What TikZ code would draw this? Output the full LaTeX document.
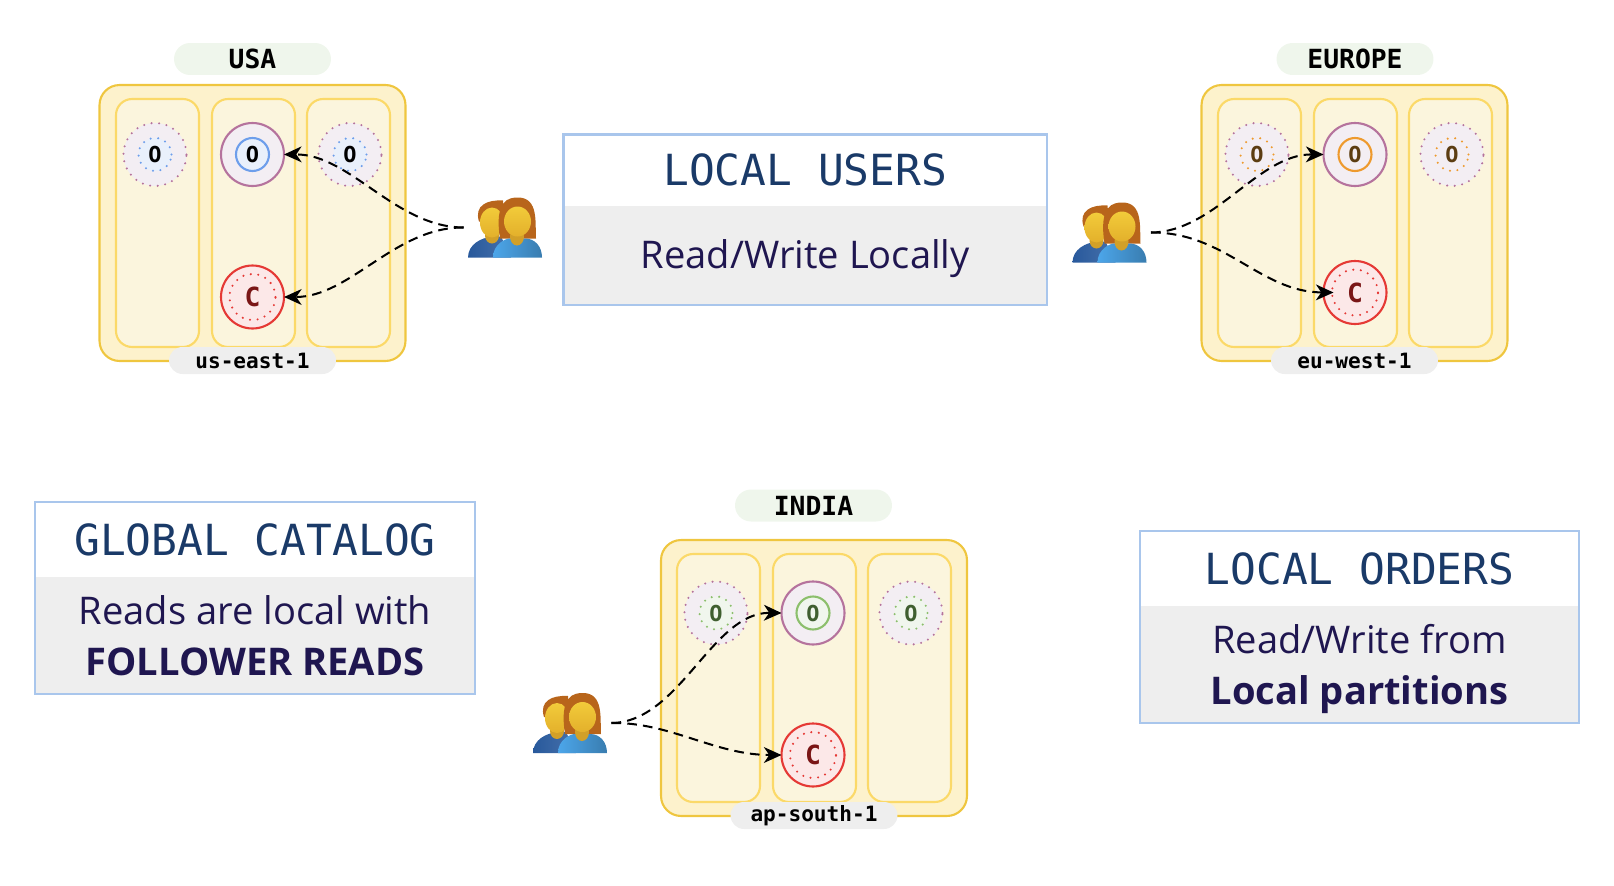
\documentclass[tikz,border=0pt]{standalone}
\usepackage{fontspec}
\setmainfont{Open Sans}
\setmonofont{DejaVu Sans Mono}
\usepackage{tikz}
\usetikzlibrary{arrows.meta, fit}
\definecolor{zoneyellow}{HTML}{FDF2CC}
\definecolor{zoneedge}{HTML}{EFC63F}
\definecolor{nodeyellow}{HTML}{FBF5DD}
\definecolor{nodeedge}{HTML}{FBD968}
\definecolor{pillgreen}{HTML}{EFF6EC}
\definecolor{pillgray}{HTML}{EEEEEE}
\definecolor{repfill}{HTML}{F3EEF3}
\definecolor{repedge}{HTML}{B5739D}
\definecolor{bluefill}{HTML}{E9F0FB}
\definecolor{blueedge}{HTML}{6D9EEB}
\definecolor{orangeedge}{HTML}{EE9A2E}
\definecolor{orangetext}{HTML}{5C3D11}
\definecolor{greenfill}{HTML}{F0F6ED}
\definecolor{greenedge}{HTML}{8CBF6C}
\definecolor{greentext}{HTML}{3F5F2F}
\definecolor{catfill}{HTML}{FCE8E8}
\definecolor{catedge}{HTML}{E53935}
\definecolor{cattext}{HTML}{7A1616}
\definecolor{infoedge}{HTML}{A9C6EC}
\definecolor{infohead}{HTML}{1A3A68}
\definecolor{infotext}{HTML}{1F1650}
\definecolor{hair}{HTML}{B8651B}
\definecolor{skin}{HTML}{F2CB3A}
\definecolor{skindark}{HTML}{E3B02B}
\definecolor{neckgold}{HTML}{D2A028}
\definecolor{manblue}{HTML}{28599C}
\definecolor{womanblue}{HTML}{4CA6EA}

\begin{document}
\begin{tikzpicture}[
        x=0.02cm, y=-0.02cm,
        every node/.style={align=center, outer sep=0pt},
        zone/.style={rectangle, rounded corners=0.4cm, draw=zoneedge, line width=1.2pt,
                     fill=zoneyellow, minimum width=6.12cm, minimum height=5.52cm},
        column/.style={rectangle, rounded corners=0.32cm, draw=nodeedge, line width=1.2pt,
                       fill=nodeyellow, minimum width=1.66cm, minimum height=4.96cm},
        geo/.style={rectangle, rounded corners=0.32cm, fill=pillgreen, minimum width=3.14cm,
                    minimum height=0.64cm, inner sep=0pt, text=black,
                    font=\ttfamily\bfseries\fontsize{15}{18}\selectfont},
        region/.style={rectangle, rounded corners=0.27cm, fill=pillgray, minimum width=3.34cm,
                       minimum height=0.54cm, inner sep=0pt, text=black,
                       font=\ttfamily\bfseries\fontsize{12}{14}\selectfont},
        dotline/.style={line width=1.3pt, line cap=round, dash pattern=on 0pt off 4.3pt},
        rep/.style={circle, draw=repedge, fill=repfill, dotline, minimum size=1.26cm, inner sep=0pt},
        lead/.style={circle, draw=repedge, fill=repfill, line width=1.2pt, minimum size=1.26cm, inner sep=0pt},
        repin/.style={circle, dotline, minimum size=0.66cm, inner sep=0pt,
                      font=\ttfamily\bfseries\fontsize{12.5}{14}\selectfont},
        leadin/.style={circle, line width=1.2pt, minimum size=0.66cm, inner sep=0pt,
                       font=\ttfamily\bfseries\fontsize{12.5}{14}\selectfont},
        bluetone/.style={draw=blueedge, fill=bluefill, text=black},
        orangetone/.style={draw=orangeedge, fill=repfill, text=orangetext},
        greentone/.style={draw=greenedge, fill=greenfill, text=greentext},
        cat/.style={circle, draw=catedge, fill=catfill, line width=1.2pt, minimum size=1.26cm, inner sep=0pt},
        catin/.style={circle, draw=catedge, dotline, minimum size=0.92cm, inner sep=0pt, text=cattext,
                      font=\ttfamily\bfseries\fontsize{15}{16}\selectfont},
        people/.style={rectangle, minimum width=1.66cm, minimum height=1.2cm, inner sep=0pt},
        conn/.style={draw=black, line width=1.15pt, dash pattern=on 5.5pt off 3.5pt,
                     -{Stealth[length=10pt, width=9pt, inset=3pt]}},
        infotitle/.style={rectangle, fill=white, text=infohead, inner sep=0pt,
                          font=\ttfamily\fontsize{24.4}{28}\selectfont},
        infobody/.style={rectangle, fill=pillgray, inner sep=0pt},
        infowords/.style={text=infotext, inner sep=0pt, font=\fontsize{21.7}{29}\selectfont},
        infoframe/.style={rectangle, draw=infoedge, line width=1.2pt, inner sep=0pt},
        crowd/.pic={
            \shade[left color=manblue, right color=manblue!85!white] (-37,30) .. controls (-37,17) and (-24,10) .. (-12,9) -- (-4,9) -- (6,30) -- cycle;
            \fill[hair] (-26,-6) .. controls (-31,-22) and (-18,-28) .. (-2,-27) -- (0,-6) -- cycle;
            \fill[neckgold] (-13,8) ellipse [x radius=7, y radius=8];
            \shade[top color=skin, bottom color=skindark] (-13,-5) ellipse [x radius=12, y radius=15];
            \fill[hair] (-5,11) .. controls (-11,-28) and (4,-30) .. (13,-30) .. controls (34,-30) and (30,-4) .. (31,11) -- cycle;
            \shade[left color=womanblue, right color=womanblue!75!black] (-12,30) .. controls (-12,17) and (0,11) .. (5,11) -- (20,11) .. controls (30,11) and (37,19) .. (37,30) -- cycle;
            \fill[neckgold] (12,9) ellipse [x radius=7, y radius=9];
            \shade[top color=skin, bottom color=skindark] (12.5,-6) ellipse [x radius=13.5, y radius=15];
        }
    ]
    \useasboundingbox (0,0) rectangle (1614,886);

    % usa
    \node[geo] (usageo) at (252.5,59) {USA};
    \node[zone] (usazone) at (252.5,223) {};
    \node[column] (usacol1) at (157.5,223) {};
    \node[column] (usacol2) at (253.5,223) {};
    \node[column] (usacol3) at (348.5,223) {};
    \node[region] (usaregion) at (252.5,360.5) {us-east-1};
    \node[rep] (usa1) at (155,154.5) {};
    \node[repin, bluetone] (usa1in) at (usa1) {O};
    \node[lead] (usa2) at (252.5,154.5) {};
    \node[leadin, bluetone] (usa2in) at (usa2) {O};
    \node[rep] (usa3) at (350,154.5) {};
    \node[repin, bluetone] (usa3in) at (usa3) {O};
    \node[cat] (usacat) at (252.5,297) {};
    \node[catin] (usacatin) at (usacat) {C};
    \node[people] (usausers) at (505,227.5) {};
    \pic at (usausers) {crowd};
    \draw[conn] (usausers.west) .. controls (395,227) and (350,154) .. (usa2.east);
    \draw[conn] (usausers.west) .. controls (395,227) and (350,297) .. (usacat.east);

    % europe
    \node[geo] (eurgeo) at (1355,59) {EUROPE};
    \node[zone] (eurzone) at (1354.5,223) {};
    \node[column] (eurcol1) at (1259.5,223) {};
    \node[column] (eurcol2) at (1355.5,223) {};
    \node[column] (eurcol3) at (1450.5,223) {};
    \node[region] (eurregion) at (1354.5,360.5) {eu-west-1};
    \node[rep] (eur1) at (1257,154.5) {};
    \node[repin, orangetone] (eur1in) at (eur1) {O};
    \node[lead] (eur2) at (1355,154.5) {};
    \node[leadin, orangetone] (eur2in) at (eur2) {O};
    \node[rep] (eur3) at (1452,154.5) {};
    \node[repin, orangetone] (eur3in) at (eur3) {O};
    \node[cat] (eurcat) at (1355,292.5) {};
    \node[catin] (eurcatin) at (eurcat) {C};
    \node[people] (eurusers) at (1109.5,232.5) {};
    \pic at (eurusers) {crowd};
    \draw[conn] (eurusers.east) .. controls (1215,232) and (1258,154) .. (eur2.west);
    \draw[conn] (eurusers.east) .. controls (1225,232) and (1260,292) .. ([shift={(10,0)}]eurcat.west);

    % india
    \node[geo] (indgeo) at (813.5,505.5) {INDIA};
    \node[zone] (indzone) at (814,678) {};
    \node[column] (indcol1) at (718.5,678) {};
    \node[column] (indcol2) at (814.5,678) {};
    \node[column] (indcol3) at (909.5,678) {};
    \node[region] (indregion) at (814,815.5) {ap-south-1};
    \node[rep] (ind1) at (716,613) {};
    \node[repin, greentone] (ind1in) at (ind1) {O};
    \node[lead] (ind2) at (813,613) {};
    \node[leadin, greentone] (ind2in) at (ind2) {O};
    \node[rep] (ind3) at (911,613) {};
    \node[repin, greentone] (ind3in) at (ind3) {O};
    \node[cat] (indcat) at (813,755) {};
    \node[catin] (indcatin) at (indcat) {C};
    \node[people] (indusers) at (570,723) {};
    \pic at (indusers) {crowd};
    \draw[conn] (indusers.east) .. controls (680,722) and (712,612) .. (ind2.west);
    \draw[conn] (indusers.east) .. controls (670,722) and (715,755) .. (indcat.west);

    % text boxes
    \node[infotitle, minimum width=9.67cm, minimum height=1.43cm] (usershead) at (805.25,170.25) {LOCAL USERS};
    \node[infobody, minimum width=9.67cm, minimum height=1.98cm] (usersbody) at (805.25,255.5) {};
    \node[infowords] (userstext) at (805.25,259) {Read/Write Locally};
    \node[infoframe, fit=(usershead)(usersbody)] (usersframe) {};

    \node[infotitle, minimum width=8.8cm, minimum height=1.5cm] (globalhead) at (255,539.5) {GLOBAL CATALOG};
    \node[infobody, minimum width=8.8cm, minimum height=2.34cm] (globalbody) at (255,635.5) {};
    \node[infowords] (globaltext) at (255,636) {Reads are local with\\\textbf{FOLLOWER READS}};
    \node[infoframe, fit=(globalhead)(globalbody)] (globalframe) {};

    \node[infotitle, minimum width=8.78cm, minimum height=1.5cm] (ordershead) at (1359.5,568.5) {LOCAL ORDERS};
    \node[infobody, minimum width=8.78cm, minimum height=2.34cm] (ordersbody) at (1359.5,664.5) {};
    \node[infowords] (orderstext) at (1359.5,669) {Read/Write from\\\textbf{Local partitions}};
    \node[infoframe, fit=(ordershead)(ordersbody)] (ordersframe) {};
\end{tikzpicture}
\end{document}
